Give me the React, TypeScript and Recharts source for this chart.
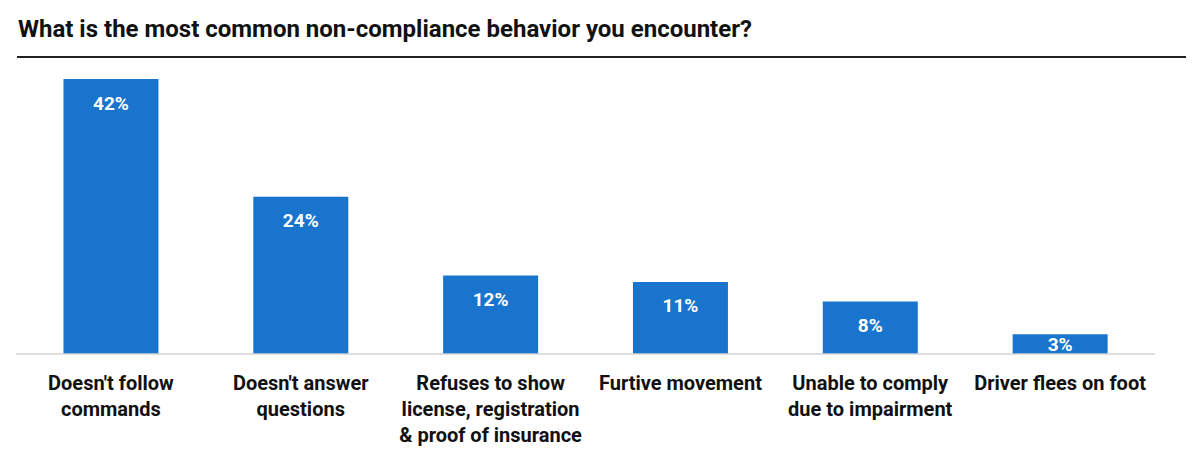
import React from 'react';
import { BarChart, Bar, XAxis, YAxis, LabelList } from 'recharts';

const categories = [
  "Doesn't follow\ncommands",
  "Doesn't answer\nquestions",
  'Refuses to show\nlicense, registration\n& proof of insurance',
  'Furtive movement',
  'Unable to comply\ndue to impairment',
  'Driver flees on foot',
];
const shares = [42, 24, 12, 11, 8, 3];

const title = 'What is the most common non-compliance behavior you encounter?';

const data = categories.map((c, i) => ({ name: c, value: shares[i] }));

const BAR_COLOR = '#1874cd';
const FONT = 'Roboto, "Noto Sans", sans-serif';

function CategoryTick(props: any) {
  const { x, y, payload } = props;
  const lines = String(payload.value).split('\n');
  return (
    <text x={x} y={y} textAnchor="middle" fill="#111" fontFamily={FONT} fontWeight={700} fontSize={20}>
      {lines.map((l, i) => (
        <tspan key={i} x={x} dy={i === 0 ? 36 : 26}>{l}</tspan>
      ))}
    </text>
  );
}

function ValueLabel(props: any) {
  const { x, y, width, height, value } = props;
  const cy = Math.min(y + 24, y + height / 2);
  return (
    <text x={x + width / 2} y={cy} dy={6.5} textAnchor="middle" fill="#fff" fontFamily={FONT} fontWeight={700} fontSize={19}>
      {value}%
    </text>
  );
}

export default function App() {
  return (
    <div style={{ position: 'absolute', left: 0, top: 0, width: 1200, height: 466, background: '#fff', fontFamily: FONT }}>
      <div style={{ position: 'absolute', left: 18, top: 15, fontSize: 24, lineHeight: '28px', fontWeight: 700, color: '#111', whiteSpace: 'nowrap' }}>
        {title}
      </div>
      <div style={{ position: 'absolute', left: 17, top: 56, width: 1169, height: 2, background: '#222' }} />
      <BarChart
        width={1200}
        height={466}
        data={data}
        margin={{ top: 79, right: 45, left: 16, bottom: 12 }}
        barCategoryGap="25%"
      >
        <XAxis
          dataKey="name"
          interval={0}
          tickLine={false}
          axisLine={{ stroke: '#d3d3d3', strokeWidth: 1.5 }}
          height={100}
          tick={<CategoryTick />}
          tickMargin={-6}
        />
        <YAxis hide domain={[0, 42]} />
        <Bar dataKey="value" fill={BAR_COLOR} isAnimationActive={false}>
          <LabelList dataKey="value" content={<ValueLabel />} />
        </Bar>
      </BarChart>
    </div>
  );
}
